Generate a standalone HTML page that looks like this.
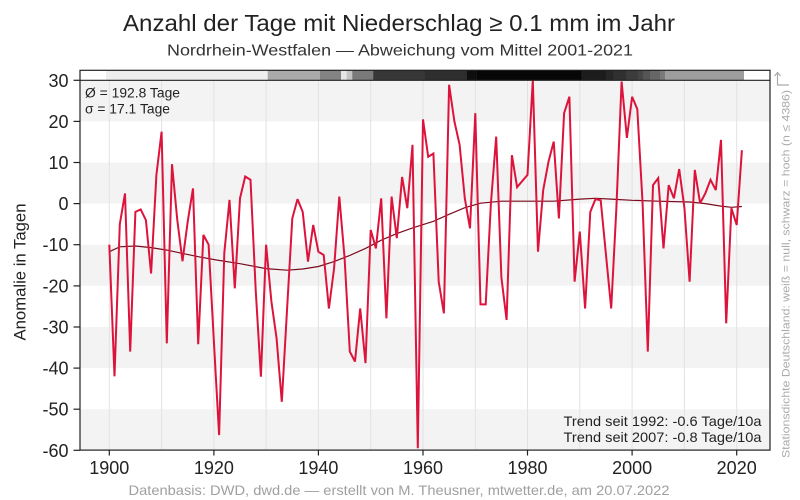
<!DOCTYPE html>
<html>
<head>
<meta charset="utf-8">
<style>
html,body{margin:0;padding:0;background:#fff;}
svg{display:block;}
text{font-family:"Liberation Sans",sans-serif;}
</style>
</head>
<body>
<svg width="800" height="500" viewBox="0 0 800 500" xmlns="http://www.w3.org/2000/svg">
<rect x="0" y="0" width="800" height="500" fill="#fff"/>

<!-- title -->
<text x="123" y="31" font-size="23" fill="#222" textLength="552" lengthAdjust="spacingAndGlyphs">Anzahl der Tage mit Niederschlag ≥ 0.1 mm im Jahr</text>
<text x="167" y="55.5" font-size="16" fill="#333" textLength="466" lengthAdjust="spacingAndGlyphs">Nordrhein-Westfalen — Abweichung vom Mittel 2001-2021</text>

<!-- bands -->
<g fill="#f3f3f3">
<rect x="80" y="80.3" width="690" height="41.1"/>
<rect x="80" y="162.5" width="690" height="41.1"/>
<rect x="80" y="244.7" width="690" height="41.1"/>
<rect x="80" y="327" width="690" height="41.1"/>
<rect x="80" y="409.2" width="690" height="41.1"/>
</g>

<!-- vertical gridlines -->
<g stroke="#e2e2e2" stroke-width="1">
<line x1="109.3" y1="80" x2="109.3" y2="450"/>
<line x1="161.6" y1="80" x2="161.6" y2="450"/>
<line x1="213.9" y1="80" x2="213.9" y2="450"/>
<line x1="266.1" y1="80" x2="266.1" y2="450"/>
<line x1="318.4" y1="80" x2="318.4" y2="450"/>
<line x1="370.7" y1="80" x2="370.7" y2="450"/>
<line x1="423" y1="80" x2="423" y2="450"/>
<line x1="475.3" y1="80" x2="475.3" y2="450"/>
<line x1="527.5" y1="80" x2="527.5" y2="450"/>
<line x1="579.8" y1="80" x2="579.8" y2="450"/>
<line x1="632.1" y1="80" x2="632.1" y2="450"/>
<line x1="684.4" y1="80" x2="684.4" y2="450"/>
<line x1="736.7" y1="80" x2="736.7" y2="450"/>
</g>

<!-- station density strip -->
<g>
<rect x="80" y="70.5" width="26" height="9.5" fill="#ffffff"/>
<rect x="106" y="70.5" width="162" height="9.5" fill="#eeeeee"/>
<rect x="267.7" y="70.5" width="52.5" height="9.5" fill="#aaaaaa"/>
<rect x="320" y="70.5" width="21.2" height="9.5" fill="#838383"/>
<rect x="341" y="70.5" width="5.9" height="9.5" fill="#e6e6e6"/>
<rect x="346.7" y="70.5" width="5.8" height="9.5" fill="#c4c4c4"/>
<rect x="352.3" y="70.5" width="21.2" height="9.5" fill="#7a7a7a"/>
<rect x="373.3" y="70.5" width="51.9" height="9.5" fill="#373737"/>
<rect x="425" y="70.5" width="41.9" height="9.5" fill="#2e2e2e"/>
<rect x="466.7" y="70.5" width="10.2" height="9.5" fill="#0e0e0e"/>
<rect x="476.7" y="70.5" width="105.2" height="9.5" fill="#060606"/>
<rect x="581.7" y="70.5" width="25.2" height="9.5" fill="#1c1c1c"/>
<rect x="606.7" y="70.5" width="6.8" height="9.5" fill="#262626"/>
<rect x="613.3" y="70.5" width="13.6" height="9.5" fill="#303030"/>
<rect x="626.7" y="70.5" width="11.5" height="9.5" fill="#3c3c3c"/>
<rect x="638" y="70.5" width="5.2" height="9.5" fill="#464646"/>
<rect x="643" y="70.5" width="7.2" height="9.5" fill="#555555"/>
<rect x="650" y="70.5" width="10.2" height="9.5" fill="#676767"/>
<rect x="660" y="70.5" width="5.2" height="9.5" fill="#7a7a7a"/>
<rect x="665" y="70.5" width="79" height="9.5" fill="#9d9d9d"/>
<rect x="744" y="70.5" width="26" height="9.5" fill="#ffffff"/>
</g>

<!-- trend curve -->
<polyline fill="none" stroke="#7a0c1e" stroke-width="1.2" points="109.3,251.7 119.8,246.8 135.4,246 151.1,247.6 166.8,250.1 182.5,253.4 198.2,256.7 216.5,260 240,263.7 266.1,268.6 287.1,270.2 302.7,269 318.4,266.5 334.1,261.6 349.8,255.4 365.5,248.4 381.2,240.2 396.8,233.6 412.5,227.9 433.4,221.3 449.1,214.3 464.8,207.7 480.5,203.2 501.4,201.2 553.7,201.2 579.8,199.1 595.5,198.3 611.2,199.1 632.1,200.3 658.2,201.2 689.6,202 705.3,203.6 721,206.1 731.4,207.3 741.9,206.5"/>

<!-- data series -->
<polyline fill="none" stroke="#dc143c" stroke-width="2" stroke-linejoin="miter" stroke-miterlimit="3" points="109.3,244.7 114.5,376.3 119.8,224.2 125,193.4 130.2,351.6 135.4,211.9 140.7,209.4 145.9,220.1 151.1,273.5 156.4,174.9 161.6,131.7 166.8,343.4 172,164.2 177.3,220.1 182.5,261.2 187.7,221.7 193,188.4 198.2,344.2 203.4,234.9 208.6,244.7 213.9,341.8 219.1,435.1 224.3,253 229.5,199.9 234.8,288.3 240,198.3 245.2,176.5 250.5,179.8 255.7,290 260.9,376.7 266.1,244.7 271.4,301.5 276.6,338.5 281.8,401.8 287.1,308.5 292.3,218.4 297.5,199.1 302.7,211.9 308,261.6 313.2,225 318.4,251.7 323.7,255 328.9,308.5 334.1,268.2 339.3,196.6 344.6,258.3 349.8,351.6 355,361.5 360.2,308.5 365.5,363.1 370.7,229.9 375.9,248.4 381.2,198.3 386.4,318.3 391.6,196.6 396.8,238.2 402.1,176.9 407.3,208.2 412.5,144.8 417.8,448.2 423,119.4 428.2,156.8 433.4,153.5 438.7,281.7 443.9,313.4 449.1,84.8 454.4,121.4 459.6,144.8 464.8,198.3 470,228.3 475.3,113.2 480.5,304.4 485.7,304.4 490.9,203.6 496.2,136.6 501.4,277.6 506.6,320 511.9,155.1 517.1,187.2 522.3,181 527.5,174.9 532.8,80.3 538,251.7 543.2,190.1 548.5,161.7 553.7,141.6 558.9,218.4 564.1,113.2 569.4,96.7 574.6,281.7 579.8,231.6 585.1,308.5 590.3,211.9 595.5,199.1 600.7,200.3 606,255 611.2,308.5 616.4,207.7 621.6,81.5 626.9,137.9 632.1,96.7 637.3,109.1 642.6,203.6 647.8,351.6 653,185.1 658.2,178.1 663.5,248.4 668.7,185.1 673.9,198.3 679.2,169.1 684.4,207.7 689.6,281.7 694.8,169.9 700.1,203.2 705.3,193.4 710.5,179.8 715.8,190.1 721,139.9 726.2,323.3 731.4,208.2 736.7,225 741.9,150.2"/>

<!-- frame -->
<g stroke="#222" stroke-width="1.2" fill="none">
<rect x="80" y="70.3" width="690" height="379.8"/>
<line x1="80" y1="80.3" x2="770" y2="80.3"/>
</g>

<!-- y ticks -->
<g stroke="#222" stroke-width="1.2">
<line x1="73.5" y1="80.3" x2="80" y2="80.3"/>
<line x1="73.5" y1="121.4" x2="80" y2="121.4"/>
<line x1="73.5" y1="162.5" x2="80" y2="162.5"/>
<line x1="73.5" y1="203.6" x2="80" y2="203.6"/>
<line x1="73.5" y1="244.7" x2="80" y2="244.7"/>
<line x1="73.5" y1="285.9" x2="80" y2="285.9"/>
<line x1="73.5" y1="327" x2="80" y2="327"/>
<line x1="73.5" y1="368.1" x2="80" y2="368.1"/>
<line x1="73.5" y1="409.2" x2="80" y2="409.2"/>
<line x1="73.5" y1="450.3" x2="80" y2="450.3"/>
<line x1="109.3" y1="450" x2="109.3" y2="455.5"/>
<line x1="213.9" y1="450" x2="213.9" y2="455.5"/>
<line x1="318.4" y1="450" x2="318.4" y2="455.5"/>
<line x1="423" y1="450" x2="423" y2="455.5"/>
<line x1="527.5" y1="450" x2="527.5" y2="455.5"/>
<line x1="632.1" y1="450" x2="632.1" y2="455.5"/>
<line x1="736.7" y1="450" x2="736.7" y2="455.5"/>
</g>

<!-- y labels -->
<g font-size="18" fill="#222" text-anchor="end">
<text x="68.5" y="86.8">30</text>
<text x="68.5" y="127.9">20</text>
<text x="68.5" y="169">10</text>
<text x="68.5" y="210.1">0</text>
<text x="68.5" y="251.2">-10</text>
<text x="68.5" y="292.4">-20</text>
<text x="68.5" y="333.5">-30</text>
<text x="68.5" y="374.6">-40</text>
<text x="68.5" y="415.7">-50</text>
<text x="68.5" y="456.8">-60</text>
</g>

<!-- x labels -->
<g font-size="18" fill="#222" text-anchor="middle">
<text x="109.3" y="474">1900</text>
<text x="213.9" y="474">1920</text>
<text x="318.4" y="474">1940</text>
<text x="423" y="474">1960</text>
<text x="527.5" y="474">1980</text>
<text x="632.1" y="474">2000</text>
<text x="736.7" y="474">2020</text>
</g>

<!-- y axis title -->
<text x="0" y="0" font-size="17" fill="#222" text-anchor="middle" textLength="137" lengthAdjust="spacingAndGlyphs" transform="translate(25.5,272) rotate(-90)">Anomalie in Tagen</text>

<!-- stats -->
<text x="85" y="97.3" font-size="13.5" fill="#222" textLength="95" lengthAdjust="spacingAndGlyphs">Ø = 192.8 Tage</text>
<text x="85" y="113.3" font-size="13.5" fill="#222" textLength="85" lengthAdjust="spacingAndGlyphs">σ = 17.1 Tage</text>

<!-- trend text -->
<text x="563.5" y="426" font-size="14" fill="#222" textLength="198" lengthAdjust="spacingAndGlyphs">Trend seit 1992: -0.6 Tage/10a</text>
<text x="563.5" y="442" font-size="14" fill="#222" textLength="198" lengthAdjust="spacingAndGlyphs">Trend seit 2007: -0.8 Tage/10a</text>

<!-- right side note -->
<g stroke="#aaa" stroke-width="1.2" fill="none">
<polyline points="789,85 777.5,85 777.5,72.5"/>
<polyline points="774.5,76 777.5,72.5 780.5,76"/>
</g>
<text x="0" y="0" font-size="11" fill="#aaa" text-anchor="middle" textLength="368" lengthAdjust="spacingAndGlyphs" transform="translate(789.5,274) rotate(-90)">Stationsdichte Deutschland: weiß = null, schwarz = hoch (n ≤ 4386)</text>

<!-- credit -->
<text x="128.5" y="495" font-size="14" fill="#a0a0a0" textLength="541" lengthAdjust="spacingAndGlyphs">Datenbasis: DWD, dwd.de — erstellt von M. Theusner, mtwetter.de, am 20.07.2022</text>
</svg>
</body>
</html>
